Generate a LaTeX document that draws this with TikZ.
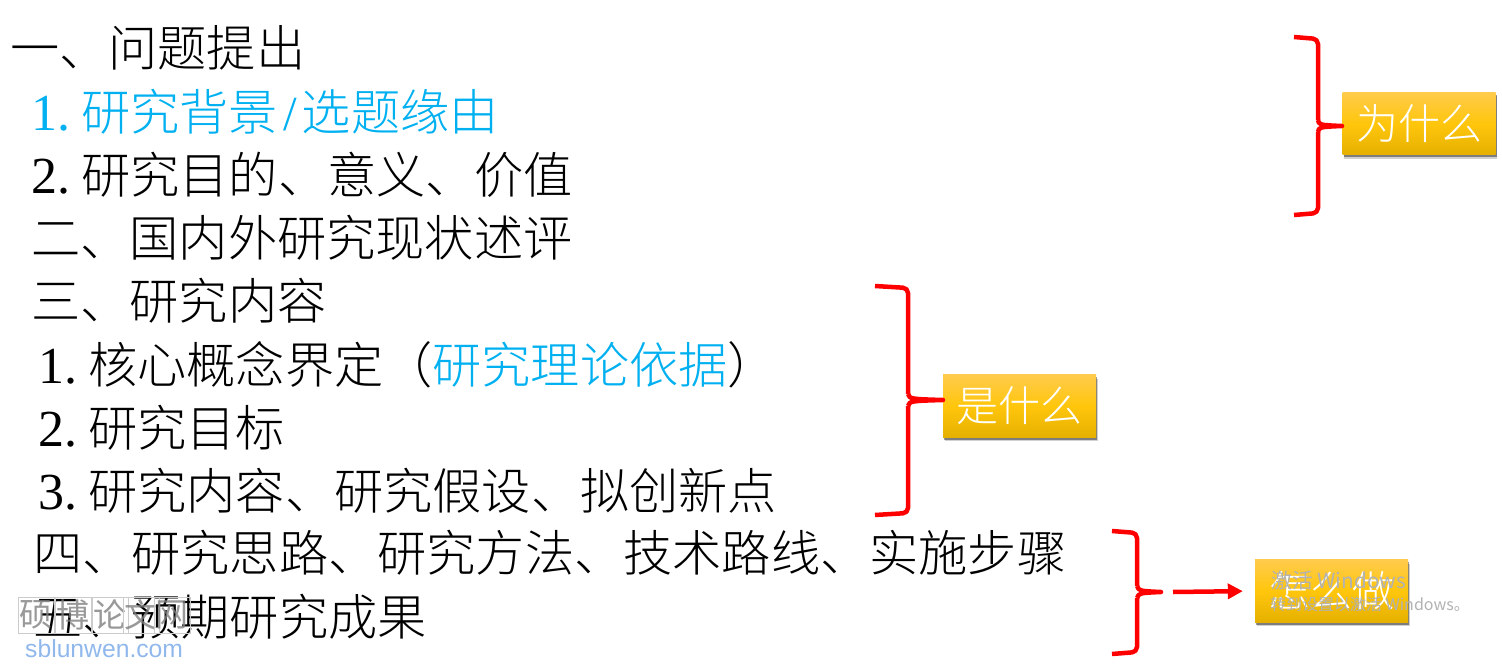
\documentclass[tikz,border=0pt]{standalone}
\usepackage{fontspec}
\setmainfont{Liberation Serif}
\newfontfamily\cjk[UprightFont=* Light,BoldFont=* Bold]{Noto Sans CJK SC}
\newfontfamily\cjkreg{Noto Sans CJK SC}
\newfontfamily\arialf{Liberation Sans}
\usetikzlibrary{shadows,arrows.meta}
\definecolor{hilite}{HTML}{00B0F0}
\definecolor{goldtop}{HTML}{FFCB4C}
\definecolor{goldmid}{HTML}{FFC60C}
\definecolor{goldbot}{HTML}{E5B000}
\definecolor{wmblue}{HTML}{90B8EC}
\newcommand{\numb}[1]{\makebox[50pt][l]{\rmfamily\fontsize{52}{52}\selectfont #1}}
\tikzset{
  x=1pt,y=-1pt,
  textline/.style={anchor=west,inner sep=0pt,font=\cjk\fontsize{49.2}{50}\selectfont},
  goldbox/.style={rectangle,inner sep=0pt,minimum width=153pt,minimum height=62.5pt,
    top color=goldtop,bottom color=goldbot,middle color=goldmid,
    text=white,font=\cjk\fontsize{42}{44}\selectfont,
    drop shadow={shadow xshift=1.5pt,shadow yshift=-4pt,fill=black,opacity=.18},
    drop shadow={shadow xshift=1pt,shadow yshift=-2.5pt,fill=black,opacity=.4}},
  bracket/.style={draw=red,line width=4.5pt,line join=round,rounded corners=5pt},
  bracetip/.style={draw=red,line width=4.5pt,line join=round},
  flow/.style={draw=red,line width=4.5pt,shorten >=12pt,-{Triangle[length=15pt,width=15pt]}},
  wmbox/.style={draw=black!20,line width=.8pt,fill=none,minimum size=36pt,inner sep=0pt,
    text=black!50,text opacity=.8,font=\cjkreg\fontsize{33}{34}\selectfont}
}
\begin{document}
\begin{tikzpicture}
\useasboundingbox (0,0) rectangle (1502,668);
\node[textline] (l1) at (10,48) {一、问题提出};
\node[textline,text=hilite] (l2) at (31,112) {\numb{1.}研究背景\makebox[24pt][c]{\rmfamily\fontsize{49}{50}\selectfont /}选题缘由};
\node[textline] (l3) at (31,175) {\numb{2.}研究目的、意义、价值};
\node[textline] (l4) at (31,238) {二、国内外研究现状述评};
\node[textline] (l5) at (31,301) {三、研究内容};
\node[textline] (l6) at (38,365) {\numb{1.}核心概念界定（{\color{hilite}研究理论依据}）};
\node[textline] (l7) at (38,428) {\numb{2.}研究目标};
\node[textline] (l8) at (38,491) {\numb{3.}研究内容、研究假设、拟创新点};
\node[textline] (l9) at (33,553) {四、研究思路、研究方法、技术路线、实施步骤};
\node[textline] (l10) at (33,617) {五、预期研究成果};

\node[goldbox] (why) at (1419,123.5) {为什么};
\node[goldbox] (what) at (1019.5,406) {是什么};
\node[goldbox] (how) at (1331.5,591) {怎么做};

\coordinate (b1a) at (1294,37);
\coordinate (b1b) at (1294,215);
\coordinate (b1t) at (1342,126);
\coordinate (b2a) at (875,286);
\coordinate (b2b) at (875,515);
\coordinate (b2t) at (943,400);
\coordinate (b3a) at (1112,531);
\coordinate (b3b) at (1112,654);
\coordinate (b3t) at (1161,592);
\coordinate (b3s) at (1173,592);

\draw[bracket] (b1a) -- (1318,39) -- (1318,120);
\draw[bracket] (b1b) -- (1318,213) -- (1318,132);
\draw[bracetip] (1318,120) .. controls (1319,125) .. (b1t) .. controls (1319,127) .. (1318,132);
\draw[bracket] (b2a) -- (908,288) -- (908,394);
\draw[bracket] (b2b) -- (908,513) -- (908,406);
\draw[bracetip] (908,394) .. controls (910,399) .. (b2t) .. controls (910,401) .. (908,406);
\draw[bracket] (b3a) -- (1137,533) -- (1137,586);
\draw[bracket] (b3b) -- (1137,652) -- (1137,598);
\draw[bracetip] (1137,586) .. controls (1139,591) .. (b3t) .. controls (1139,593) .. (1137,598);
\draw[flow] (b3s) -- (how.west);

% overlaid marks printed on the picture
\foreach \nm/\cx/\ch in {wa/36/硕,wb/73/博,wc/110/论,wd/141/文,we/172/网}{
  \node[wmbox] (\nm) at (\cx,615) {\ch};
}
\node[anchor=west,inner sep=0pt,text=wmblue,font=\arialf\fontsize{24.7}{26}\selectfont] (wsite) at (25,649) {sblunwen.com};
\node[anchor=west,inner sep=0pt,text=black!30,font=\cjkreg\fontsize{20.8}{24}\selectfont] (act1) at (1271,581) {激活 Windows};
\node[anchor=west,inner sep=0pt,text=black!30,font=\cjkreg\fontsize{16}{17}\selectfont] (act2) at (1270,604) {转到设置以激活 Windows。};
\end{tikzpicture}
\end{document}
